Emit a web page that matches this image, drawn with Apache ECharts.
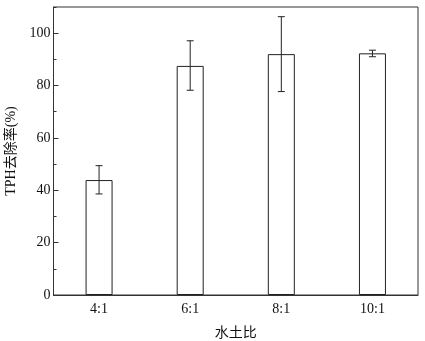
<!DOCTYPE html>
<html><head><meta charset="utf-8">
<script src="https://cdn.jsdelivr.net/npm/echarts@6/dist/echarts.min.js"></script>
<style>html,body{margin:0;padding:0;background:#fff}#c{width:425px;height:341px}</style>
</head><body><div id="c"></div>
<script>
const categories = ['4:1', '6:1', '8:1', '10:1'];
const removal = [43.9, 87.5, 92.0, 92.3];
const errUpper = [49.4, 97.1, 106.3, 93.5];
const errLower = [38.6, 78.2, 77.7, 91.0];
const yTicks = [0, 20, 40, 60, 80, 100];

const chart = echarts.init(document.getElementById('c'), null, {renderer: 'canvas'});
const font = 'Liberation Serif, Times New Roman, serif';
const lineColor = '#333';
chart.setOption({
  animation: false,
  grid: {left: 53.5, right: 7, top: 7, bottom: 46, show: true, borderColor: lineColor, borderWidth: 1,
    backgroundColor: 'transparent', containLabel: false, outerBoundsMode: 'none'},
  xAxis: {
    type: 'category', data: categories,
    axisLine: {lineStyle: {color: lineColor, width: 1}},
    axisTick: {show: false},
    axisLabel: {fontFamily: font, fontSize: 14, color: '#111', margin: 7},
    name: '水土比', nameLocation: 'middle', nameGap: 30,
    nameTextStyle: {fontFamily: 'Noto Sans CJK SC, sans-serif', fontSize: 14, color: '#111'}
  },
  yAxis: [{
    type: 'value', min: 0, max: 110, interval: 20,
    axisLine: {show: true, lineStyle: {color: lineColor, width: 1}},
    axisTick: {show: true, inside: true, length: 5, lineStyle: {color: lineColor}},
    splitLine: {show: false},
    axisLabel: {fontFamily: font, fontSize: 14, color: '#111', margin: 3, showMaxLabel: false,
      formatter: v => yTicks.includes(v) ? String(v) : ''},
    name: 'TPH去除率(%)', nameLocation: 'middle', nameGap: 34,
    nameTextStyle: {fontFamily: 'Liberation Serif, Noto Sans CJK SC, serif', fontSize: 14, color: '#111'}
  }, {
    type: 'value', min: 0, max: 110, interval: 10, position: 'left',
    axisLine: {show: false}, axisLabel: {show: false}, splitLine: {show: false},
    axisTick: {show: true, inside: true, length: 3, lineStyle: {color: lineColor}}
  }],
  series: [{
    type: 'bar', data: removal, barWidth: 27,
    itemStyle: {color: '#fff', borderColor: '#222', borderWidth: 1}
  }, {
    type: 'custom',
    data: categories.map((c, i) => [i, errLower[i], errUpper[i]]),
    renderItem: function (params, api) {
      const x = api.value(0);
      const lo = api.coord([x, api.value(1)]);
      const hi = api.coord([x, api.value(2)]);
      const hw = 3.5;
      const st = {stroke: '#222', lineWidth: 1};
      return {type: 'group', children: [
        {type: 'line', shape: {x1: lo[0], y1: lo[1], x2: hi[0], y2: hi[1]}, style: st},
        {type: 'line', shape: {x1: lo[0] - hw, y1: lo[1], x2: lo[0] + hw, y2: lo[1]}, style: st},
        {type: 'line', shape: {x1: hi[0] - hw, y1: hi[1], x2: hi[0] + hw, y2: hi[1]}, style: st}
      ]};
    },
    z: 3
  }]
});
</script></body></html>
